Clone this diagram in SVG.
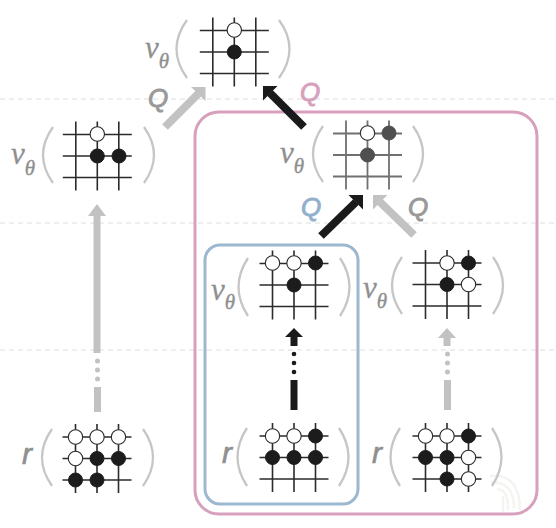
<svg xmlns="http://www.w3.org/2000/svg" width="556" height="528" viewBox="0 0 556 528">
<style>
.dash{stroke:#dcdfdf;stroke-width:1;stroke-dasharray:5 4;fill:none}
.g{stroke:#2b2b2b;stroke-width:1.6;fill:none}
.gm{stroke:#707070;stroke-width:1.8;fill:none}
.p{stroke:#c6c6c6;stroke-width:2.3;fill:none}
.b{fill:#1c1c1c;stroke:#1c1c1c;stroke-width:1}
.w{fill:#fff;stroke:#2b2b2b;stroke-width:1.1}
.d{fill:#4f4f4f;stroke:#4f4f4f;stroke-width:1}
.nu{font-family:"Liberation Serif",serif;font-style:italic;font-size:31px;fill:#8f8f8f;stroke:#8f8f8f;stroke-width:.3}
.th{font-size:21px;stroke-width:.4}
.r{font-family:"Liberation Sans",sans-serif;font-style:italic;font-size:30px;fill:#8f8f8f;stroke:#8f8f8f;stroke-width:.6}
.q{font-family:"Liberation Sans",sans-serif;font-style:italic;font-size:26px;stroke-width:.9}
.ag{fill:#c2c2c2}
.ak{fill:#1a1a1a}
.sg{stroke:#c2c2c2;stroke-width:8;fill:none}
.sk{stroke:#1a1a1a;stroke-width:8;fill:none}
</style>
<defs>
<g id="board"><path class="g" d="M-21.5-34.5V34.5M0-34.5V34.5M21.5-34.5V34.5M-34.5-21.5H34.5M-34.5 0H34.5M-34.5 21.5H34.5"/></g>
<g id="boardm"><path class="gm" d="M-21.5-34.5V34.5M0-34.5V34.5M21.5-34.5V34.5M-34.5-21.5H34.5M-34.5 0H34.5M-34.5 21.5H34.5"/></g>
<circle id="bk" class="b" r="7"/>
<circle id="wh" class="w" r="7.2"/>
<circle id="dk" class="d" r="7"/>
</defs>

<g id="guides">
<path class="dash" d="M0 99H556M0 223H556M0 350H556"/>
</g>

<g id="watermark" fill="none" stroke="#f4f4f1" stroke-width="2.5">
<path d="M491 482C506 482 514 490 514 508M497 489C506 490 508 497 508 510M490 476C512 474 520 488 520 510M503 496V512"/>
</g>

<g id="frames">
<rect id="pink-frame" x="195" y="112" width="342" height="402" rx="24" fill="none" stroke="#d7a0bd" stroke-width="3"/>
<rect id="blue-frame" x="205" y="245" width="153" height="259" rx="15" fill="none" stroke="#9cb7d0" stroke-width="3"/>
</g>

<g id="connectors">
<g class="ag">
<rect x="93.500" y="214" width="7" height="139"/>
<path d="M97 204 106 216H88Z"/>
<circle cx="97.500" cy="361" r="2.500"/><circle cx="97.500" cy="370" r="2.500"/><circle cx="97.500" cy="379" r="2.500"/>
<rect x="94" y="387" width="7" height="25"/>
<path class="sg" d="M165 127 198.500 93.500"/>
<path d="M205.500 87H191L205.500 101Z"/>
<path d="M447 328 456 338H450.500V346H443.500V338H438Z"/>
<circle cx="447.500" cy="354" r="2.500"/><circle cx="447.500" cy="363" r="2.500"/><circle cx="447.500" cy="372" r="2.500"/>
<rect x="444" y="380" width="7" height="30"/>
<path class="sg" d="M414 235 380 202"/>
<path d="M373 195H387.500L373 209.500Z"/>
</g>
<g class="ak">
<path class="sk" d="M304 127 270 93"/>
<path d="M263 86H277.500L263 100.500Z"/>
<path class="sk" d="M321 236 356 202"/>
<path d="M363 195V209.500L348.500 195Z"/>
<path d="M294 328 303 337H297.500V346H290.500V337H285Z"/>
<circle cx="294" cy="354" r="2.300"/><circle cx="294" cy="363" r="2.300"/><circle cx="294" cy="372" r="2.300"/>
<rect x="290.500" y="380" width="7" height="30"/>
</g>
</g>

<g id="q-labels">
<text class="q" x="148" y="107" fill="#999999" stroke="#999999">Q</text>
<text class="q" x="300" y="101" fill="#d7a0bd" stroke="#d7a0bd">Q</text>
<text class="q" x="301" y="216" fill="#92b0cc" stroke="#92b0cc">Q</text>
<text class="q" x="408" y="216" fill="#999999" stroke="#999999">Q</text>
</g>

<g id="node-top">
<text class="nu" x="145" y="58">ν<tspan class="th" dy="10">θ</tspan></text>
<path class="p" d="M187 20Q166 49 187 78M279 20Q300 49 279 78"/>
<use href="#board" x="234.300" y="52"/>
<use href="#wh" x="234.300" y="30"/><use href="#bk" x="234.300" y="52"/>
</g>

<g id="node-left">
<text class="nu" x="11" y="164">ν<tspan class="th" dy="11">θ</tspan></text>
<path class="p" d="M53 127Q33 155 53 183M144 127Q164 155 144 183"/>
<use href="#board" x="97.300" y="156"/>
<use href="#wh" x="97.300" y="134"/><use href="#bk" x="97.300" y="156"/><use href="#bk" x="119" y="156"/>
</g>

<g id="node-q">
<text class="nu" x="280" y="163">ν<tspan class="th" dy="10">θ</tspan></text>
<path class="p" d="M323 126Q303 154 323 182M413 126Q433 154 413 182"/>
<use href="#boardm" x="367.500" y="155"/>
<use href="#wh" x="367.500" y="133"/><use href="#dk" x="389" y="133"/><use href="#dk" x="367.500" y="155"/>
</g>

<g id="node-blue">
<text class="nu" x="211" y="300">ν<tspan class="th" dy="9">θ</tspan></text>
<path class="p" d="M248 258Q229 287 248 316M340 258Q359 287 340 316"/>
<use href="#board" x="294" y="285"/>
<use href="#wh" x="272.500" y="263"/><use href="#wh" x="294" y="263"/><use href="#bk" x="315.500" y="263"/><use href="#bk" x="294" y="285"/>
</g>

<g id="node-right">
<text class="nu" x="363" y="298">ν<tspan class="th" dy="10">θ</tspan></text>
<path class="p" d="M402 257Q382 285.500 402 314M493 257Q513 285.500 493 314"/>
<use href="#board" x="447" y="284.500"/>
<use href="#wh" x="447" y="263"/><use href="#bk" x="468.500" y="263"/><use href="#bk" x="447" y="284.500"/><use href="#wh" x="468.500" y="284.500"/>
</g>

<g id="node-r-left">
<text class="r" x="22" y="464">r</text>
<path class="p" d="M52 429Q32 457.500 52 486M143 429Q163 457.500 143 486"/>
<use href="#board" x="97" y="458.500"/>
<use href="#wh" x="75.500" y="437"/><use href="#wh" x="97" y="437"/><use href="#wh" x="118.500" y="437"/>
<use href="#wh" x="75.500" y="458.500"/><use href="#bk" x="97" y="458.500"/><use href="#bk" x="118.500" y="458.500"/>
<use href="#bk" x="75.500" y="480"/><use href="#bk" x="97" y="480"/>
</g>

<g id="node-r-mid">
<text class="r" x="222" y="463">r</text>
<path class="p" d="M247 428Q228 457 247 486M339 428Q358 457 339 486"/>
<use href="#board" x="294" y="457.500"/>
<use href="#wh" x="272.500" y="436"/><use href="#wh" x="294" y="436"/><use href="#bk" x="315.500" y="436"/>
<use href="#bk" x="272.500" y="457.500"/><use href="#bk" x="294" y="457.500"/><use href="#bk" x="315.500" y="457.500"/>
</g>

<g id="node-r-right">
<text class="r" x="372" y="463">r</text>
<path class="p" d="M400 428Q381 457 400 486M492 428Q511 457 492 486"/>
<use href="#board" x="447" y="457.500"/>
<use href="#wh" x="425.500" y="436"/><use href="#wh" x="447" y="436"/><use href="#bk" x="468.500" y="436"/>
<use href="#bk" x="425.500" y="457.500"/><use href="#bk" x="447" y="457.500"/><use href="#wh" x="468.500" y="457.500"/>
<use href="#bk" x="447" y="479"/><use href="#wh" x="468.500" y="479"/>
</g>
</svg>
